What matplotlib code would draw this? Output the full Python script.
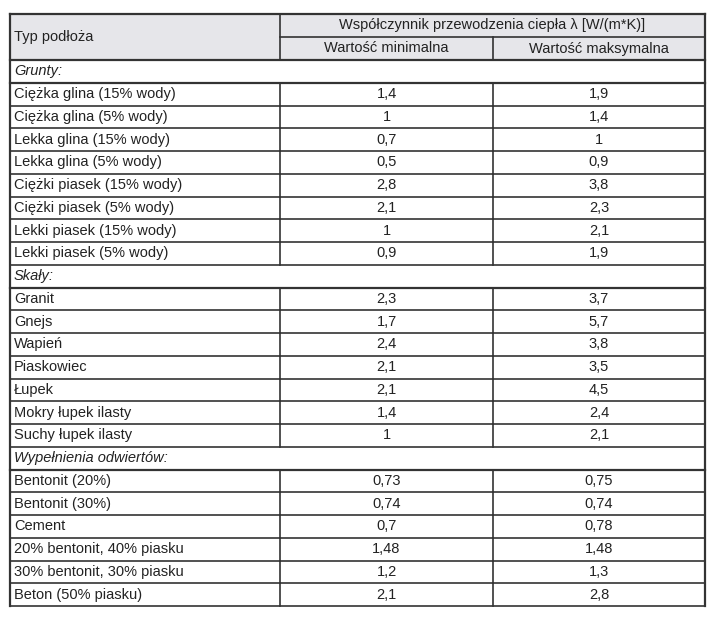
import matplotlib.pyplot as plt
from matplotlib.patches import Rectangle

header_col0 = 'Typ podłoża'
header_top = 'Współczynnik przewodzenia ciepła λ [W/(m*K)]'
header_sub = ['Wartość minimalna', 'Wartość maksymalna']

sections = ['Grunty:', 'Skały:', 'Wypełnienia odwiertów:']
names = [
    ['Ciężka glina (15% wody)', 'Ciężka glina (5% wody)', 'Lekka glina (15% wody)',
     'Lekka glina (5% wody)', 'Ciężki piasek (15% wody)', 'Ciężki piasek (5% wody)',
     'Lekki piasek (15% wody)', 'Lekki piasek (5% wody)'],
    ['Granit', 'Gnejs', 'Wapień', 'Piaskowiec', 'Łupek', 'Mokry łupek ilasty',
     'Suchy łupek ilasty'],
    ['Bentonit (20%)', 'Bentonit (30%)', 'Cement', '20% bentonit, 40% piasku',
     '30% bentonit, 30% piasku', 'Beton (50% piasku)'],
]
val_min = [
    ['1,4', '1', '0,7', '0,5', '2,8', '2,1', '1', '0,9'],
    ['2,3', '1,7', '2,4', '2,1', '2,1', '1,4', '1'],
    ['0,73', '0,74', '0,7', '1,48', '1,2', '2,1'],
]
val_max = [
    ['1,9', '1,4', '1', '0,9', '3,8', '2,3', '2,1', '1,9'],
    ['3,7', '5,7', '3,8', '3,5', '4,5', '2,4', '2,1'],
    ['0,75', '0,74', '0,78', '1,48', '1,3', '2,8'],
]

W, H = 716, 622
fig = plt.figure(figsize=(W / 100, H / 100), dpi=100)
ax = fig.add_axes([0, 0, 1, 1])
ax.set_xlim(0, W)
ax.set_ylim(H, 0)
ax.axis('off')

x0, x1, x2, x3 = 10, 280, 493, 705
top, mid, hbot = 14, 37, 60
rh = 22.75
fs = 10.5
font = 'Liberation Sans'
lc = '#333333'

# header background
ax.add_patch(Rectangle((x0, top), x3 - x0, hbot - top, color='#e6e6ea', lw=0))

y = hbot
rows = []
for s, sec in enumerate(sections):
    rows.append(('sec', sec, None, None))
    for n, a, b in zip(names[s], val_min[s], val_max[s]):
        rows.append(('row', n, a, b))
bottom = hbot + rh * len(rows)

# header text
ax.text(x0 + 4, (top + hbot) / 2, header_col0, va='center', fontsize=fs, family=font, color='#222')
ax.text((x1 + x3) / 2, (top + mid) / 2, header_top, ha='center', va='center', fontsize=fs, family=font, color='#222')
ax.text((x1 + x2) / 2, (mid + hbot) / 2, header_sub[0], ha='center', va='center', fontsize=fs, family=font, color='#222')
ax.text((x2 + x3) / 2, (mid + hbot) / 2, header_sub[1], ha='center', va='center', fontsize=fs, family=font, color='#222')

ax.plot([x0, x3], [top, top], color=lc, lw=1.6)
ax.plot([x1, x3], [mid, mid], color=lc, lw=1.2)
ax.plot([x0, x3], [hbot, hbot], color=lc, lw=1.6)
ax.plot([x0, x0], [top, bottom], color=lc, lw=1.6)
ax.plot([x3, x3], [top, bottom], color=lc, lw=1.6)
ax.plot([x1, x1], [top, hbot], color=lc, lw=1.2)
ax.plot([x2, x2], [mid, hbot], color=lc, lw=1.2)

for kind, n, a, b in rows:
    cy = y + rh / 2
    if kind == 'sec':
        ax.text(x0 + 4, cy, n, va='center', fontsize=fs, style='italic', family=font, color='#222')
        lw = 1.6
    else:
        ax.text(x0 + 4, cy, n, va='center', fontsize=fs, family=font, color='#222')
        ax.text((x1 + x2) / 2, cy, a, ha='center', va='center', fontsize=fs, family=font, color='#222')
        ax.text((x2 + x3) / 2, cy, b, ha='center', va='center', fontsize=fs, family=font, color='#222')
        ax.plot([x1, x1], [y, y + rh], color=lc, lw=1.2)
        ax.plot([x2, x2], [y, y + rh], color=lc, lw=1.2)
        lw = 1.2
    ax.plot([x0, x3], [y + rh, y + rh], color=lc, lw=lw)
    y += rh

fig.savefig('out.png', dpi=100, facecolor='white')
